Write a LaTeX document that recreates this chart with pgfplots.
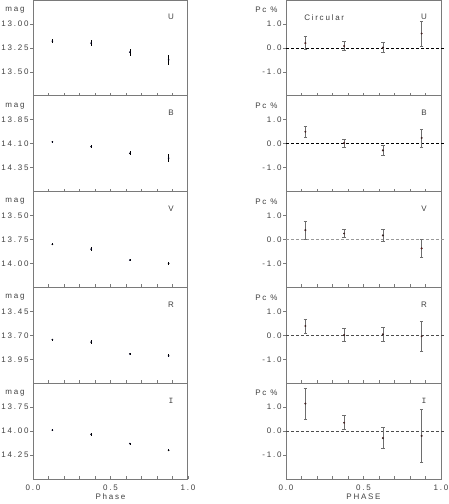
\documentclass[border=0pt]{standalone}
\usepackage{fontspec}
\setmainfont[LetterSpace=22]{Liberation Sans}
\newfontfamily\monoI{Liberation Mono}
\usepackage{pgfplots}
\pgfplotsset{compat=1.18}
\definecolor{framegray}{HTML}{7A7A7A}
\definecolor{ebgray}{HTML}{6E6E6E}

\pgfplotsset{
  panel/.style={scale only axis, width=155pt, height=95.8pt, xmin=0, xmax=1,
    axis line style={draw=framegray, line width=1pt},
    tick label style={font=\fontsize{8}{10}\selectfont, text=black!75},
    yticklabel style={xshift=-1pt},
    xtick={0.1,0.2,0.3,0.4,0.5,0.6,0.7,0.8,0.9}, xticklabels={},
    xtick pos=bottom, ytick pos=left, tick align=inside, major tick length=3pt,
    tick style={framegray, line width=0.6pt}, ytick style={xshift=-3pt},
    clip=false},
  bottompanel/.style={xtick={0,0.1,0.2,0.3,0.4,0.5,0.6,0.7,0.8,0.9,1},
    xticklabels={0.0,,,,,0.5,,,,,1.0},
    xticklabel style={yshift=-2pt},
    xlabel style={font=\fontsize{8}{10}\selectfont, text=black!75, yshift=3pt}},
  magpanel/.style={panel, y dir=reverse},
  pcpanel/.style={panel, ymin=-2, ymax=2, ytick={-1,0,1}, yticklabels={-1.0,0.0,1.0}},
  magpts/.style={black, mark=*, mark size=0.6pt, only marks,
    error bars/.cd, y dir=both, y explicit, error mark=none,
    error bar style={line width=0.6pt, black}},
  pcpts/.style={black!85, mark=*, mark size=0.8pt, only marks,
    error bars/.cd, y dir=both, y explicit,
    error bar style={line width=0.7pt, ebgray},
    error mark options={rotate=90, mark size=1.8pt, ebgray, line width=0.7pt}},
  zeroline/.style={dash pattern=on 3pt off 2pt, line width=0.7pt}
}
\newcommand{\txt}{\fontsize{8}{10}\selectfont\color{black!75}}

\begin{document}
\begin{tikzpicture}[x=1pt,y=1pt]
\useasboundingbox (0,0) rectangle (448,-504);

% ---------- left column: magnitudes ----------
\begin{axis}[magpanel, at={(33pt,0pt)}, anchor=north west,
  ymin=12.75, ymax=13.75, ytick={13.00,13.25,13.50}, yticklabels={13.00,13.25,13.50}]
\addplot+[magpts] table[x=x, y=y, y error=e] {
x y e
0.125 13.18 0.02
0.375 13.20 0.03
0.625 13.295 0.035
0.875 13.375 0.055
};
\node[anchor=east, font=\txt] at (rel axis cs:0,1) [xshift=-5pt, yshift=-10pt] {mag};
\node[font=\txt] at (rel axis cs:0.89,0.82) {U};
\end{axis}

\begin{axis}[magpanel, at={(33pt,-95.8pt)}, anchor=north west,
  ymin=13.60, ymax=14.60, ytick={13.85,14.10,14.35}, yticklabels={13.85,14.10,14.35}]
\addplot+[magpts] table[x=x, y=y, y error=e] {
x y e
0.125 14.08 0.01
0.375 14.13 0.02
0.625 14.20 0.02
0.875 14.25 0.04
};
\node[anchor=east, font=\txt] at (rel axis cs:0,1) [xshift=-5pt, yshift=-10pt] {mag};
\node[font=\txt] at (rel axis cs:0.89,0.82) {B};
\end{axis}

\begin{axis}[magpanel, at={(33pt,-191.6pt)}, anchor=north west,
  ymin=13.25, ymax=14.25, ytick={13.50,13.75,14.00}, yticklabels={13.50,13.75,14.00}]
\addplot+[magpts] table[x=x, y=y, y error=e] {
x y e
0.125 13.80 0.01
0.375 13.85 0.02
0.625 13.965 0.01
0.875 14.00 0.015
};
\node[anchor=east, font=\txt] at (rel axis cs:0,1) [xshift=-5pt, yshift=-10pt] {mag};
\node[font=\txt] at (rel axis cs:0.89,0.82) {V};
\end{axis}

\begin{axis}[magpanel, at={(33pt,-287.4pt)}, anchor=north west,
  ymin=13.20, ymax=14.20, ytick={13.45,13.70,13.95}, yticklabels={13.45,13.70,13.95}]
\addplot+[magpts] table[x=x, y=y, y error=e] {
x y e
0.125 13.745 0.01
0.375 13.77 0.02
0.625 13.895 0.01
0.875 13.915 0.015
};
\node[anchor=east, font=\txt] at (rel axis cs:0,1) [xshift=-5pt, yshift=-10pt] {mag};
\node[font=\txt] at (rel axis cs:0.89,0.82) {R};
\end{axis}

\begin{axis}[magpanel, bottompanel, at={(33pt,-383.2pt)}, anchor=north west,
  ymin=13.50, ymax=14.50, ytick={13.75,14.00,14.25}, yticklabels={13.75,14.00,14.25},
  xlabel={Phase}]
\addplot+[magpts] table[x=x, y=y, y error=e] {
x y e
0.125 13.99 0.01
0.375 14.035 0.015
0.625 14.13 0.01
0.875 14.20 0.01
};
\node[anchor=east, font=\txt] at (rel axis cs:0,1) [xshift=-5pt, yshift=-10pt] {mag};
\node[font=\txt\monoI] at (rel axis cs:0.89,0.82) {I};
\end{axis}

% ---------- right column: circular polarization ----------
\begin{axis}[pcpanel, at={(286pt,0pt)}, anchor=north west]
\addplot[zeroline, black] coordinates {(0,0) (1.03,0)};
\addplot+[pcpts] table[x=x, y=y, y error=e] {
x y e
0.125 0.20 0.27
0.375 0.08 0.18
0.625 0.01 0.21
0.875 0.60 0.52
};
\node[anchor=east, font=\txt] at (rel axis cs:0,1) [xshift=-5pt, yshift=-10pt] {Pc \%};
\node[anchor=west, font=\txt] at (rel axis cs:0.095,0.82) {Circular};
\node[font=\txt] at (rel axis cs:0.89,0.82) {U};
\end{axis}

\begin{axis}[pcpanel, at={(286pt,-95.8pt)}, anchor=north west]
\addplot[zeroline, black] coordinates {(0,0) (1.03,0)};
\addplot+[pcpts] table[x=x, y=y, y error=e] {
x y e
0.125 0.50 0.24
0.375 0.03 0.17
0.625 -0.28 0.20
0.875 0.24 0.38
};
\node[anchor=east, font=\txt] at (rel axis cs:0,1) [xshift=-5pt, yshift=-10pt] {Pc \%};
\node[font=\txt] at (rel axis cs:0.89,0.82) {B};
\end{axis}

\begin{axis}[pcpanel, at={(286pt,-191.6pt)}, anchor=north west]
\addplot[zeroline, black!40] coordinates {(0,0) (1.03,0)};
\addplot+[pcpts] table[x=x, y=y, y error=e] {
x y e
0.125 0.39 0.37
0.375 0.25 0.18
0.625 0.17 0.26
0.875 -0.37 0.36
};
\node[anchor=east, font=\txt] at (rel axis cs:0,1) [xshift=-5pt, yshift=-10pt] {Pc \%};
\node[font=\txt] at (rel axis cs:0.89,0.82) {V};
\end{axis}

\begin{axis}[pcpanel, at={(286pt,-287.4pt)}, anchor=north west]
\addplot[zeroline, black!70] coordinates {(0,0) (1.03,0)};
\addplot+[pcpts] table[x=x, y=y, y error=e] {
x y e
0.125 0.39 0.29
0.375 0.01 0.28
0.625 0.04 0.30
0.875 -0.04 0.61
};
\node[anchor=east, font=\txt] at (rel axis cs:0,1) [xshift=-5pt, yshift=-10pt] {Pc \%};
\node[font=\txt] at (rel axis cs:0.89,0.82) {R};
\end{axis}

\begin{axis}[pcpanel, bottompanel, at={(286pt,-383.2pt)}, anchor=north west,
  xlabel={PHASE}]
\addplot[zeroline, black!70] coordinates {(0,0) (1.03,0)};
\addplot+[pcpts] table[x=x, y=y, y error=e] {
x y e
0.125 1.15 0.64
0.375 0.35 0.29
0.625 -0.29 0.45
0.875 -0.20 1.12
};
\node[anchor=east, font=\txt] at (rel axis cs:0,1) [xshift=-5pt, yshift=-10pt] {Pc \%};
\node[font=\txt\monoI] at (rel axis cs:0.89,0.82) {I};
\end{axis}
\end{tikzpicture}
\end{document}
